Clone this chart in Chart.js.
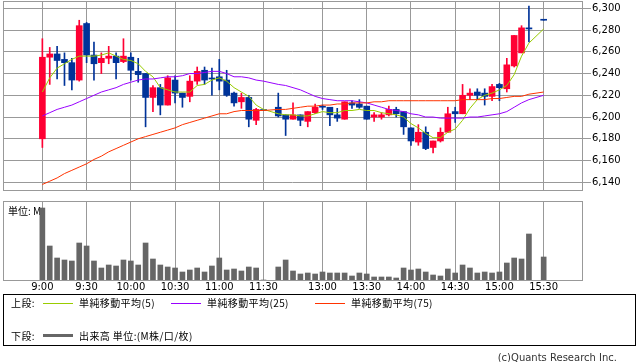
<!DOCTYPE html>
<html>
<head>
<meta charset="utf-8">
<script src="https://cdn.jsdelivr.net/npm/chart.js@4.4.0/dist/chart.umd.min.js"></script>
<style>
  body { margin:0; width:638px; height:362px; background:#fff; position:relative; overflow:hidden; font-family:"Noto Sans CJK JP", sans-serif; }
  canvas { position:absolute; left:0; }
  #price { top:0; }
  #volume { top:196px; }
  .box { position:absolute; left:3px; top:294px; width:631px; height:50px; border:1px solid #000; }
  .t { position:absolute; font-size:10px; line-height:12px; color:#000; white-space:nowrap; letter-spacing:0.4px; }
  .ln { position:absolute; height:1px; width:30px; left:43px; }
  .copy { position:absolute; right:21px; top:352px; font:10px "DejaVu Sans"; color:#333; }
</style>
</head>
<body>
<canvas id="price" width="638" height="192"></canvas>
<canvas id="volume" width="638" height="100"></canvas>

<div class="box"></div>
<div class="t" style="left:11px;top:297px">上段:</div>
<div class="ln" style="top:303px;background:#99cc00"></div>
<div class="t" style="left:79px;top:297px">単純移動平均(5)</div>
<div class="ln" style="left:171px;top:303px;background:#9900ff"></div>
<div class="t" style="left:207px;top:297px">単純移動平均(25)</div>
<div class="ln" style="left:315px;top:303px;background:#ff3300"></div>
<div class="t" style="left:351px;top:297px">単純移動平均(75)</div>
<div class="t" style="left:11px;top:330px">下段:</div>
<div class="ln" style="top:334px;height:3px;background:#666"></div>
<div class="t" style="left:79px;top:330px">出来高 単位:(M株/口/枚)</div>
<div class="copy">(c)Quants Research Inc.</div>

<script>
// 5分足 (slot 31 = 昼休み, slot 67 = 取引なし)
const times = ["9:00","9:05","9:10","9:15","9:20","9:25","9:30","9:35","9:40","9:45","9:50","9:55",
  "10:00","10:05","10:10","10:15","10:20","10:25","10:30","10:35","10:40","10:45","10:50","10:55",
  "11:00","11:05","11:10","11:15","11:20","11:25","11:30","",
  "12:30","12:35","12:40","12:45","12:50","12:55",
  "13:00","13:05","13:10","13:15","13:20","13:25","13:30","13:35","13:40","13:45","13:50","13:55",
  "14:00","14:05","14:10","14:15","14:20","14:25","14:30","14:35","14:40","14:45","14:50","14:55",
  "15:00","15:05","15:10","15:15","15:20","15:25","15:30"];
const tickLabels = ["9:00","9:30","10:00","10:30","11:00","11:30","13:00","13:30","14:00","14:30","15:00","15:30"];
const priceTicks = [6140, 6160, 6180, 6200, 6220, 6240, 6260, 6280, 6300];

const open = [6180,6255,6258,6253,6250,6234,6286,6257,6250,6254,6256,6251,
  6255,6242,6240,6218,6227,6211,6234,6222,6219,6233,6243,6235,
  6237,6234,6222,6214,6218,6197,6206,null,
  6209,6202,6198,6202,6196,6204,
  6209,6209,6202,6198,6213,6212,6210,6200,6200,6202,6207,6205,
  6190,6177,6186,6172,6178,6186,6205,6203,6220,6223,6222,6219,
  6230,6226,6247,6259,6282,null,6289];
const high = [6272,6264,6265,6259,6254,6289,6287,6269,6259,6265,6259,6272,
  6259,6254,6240,6229,6230,6238,6238,6222,6238,6246,6246,6245,
  6253,6243,6223,6222,6220,6208,6206,null,
  6222,6202,6213,6202,6205,6212,
  6211,6209,6208,6214,6215,6216,6210,6204,6204,6210,6209,6205,
  6190,6193,6191,6178,6190,6209,6209,6230,6226,6226,6226,6230,
  6231,6254,6275,6284,6302,null,6289];
const low = [6172,6230,6235,6229,6225,6233,6250,6234,6240,6249,6235,6250,
  6234,6232,6191,6205,6202,6211,6213,6209,6214,6230,6230,6220,
  6225,6219,6210,6208,6191,6193,6206,null,
  6200,6183,6198,6192,6191,6203,
  6207,6192,6196,6198,6208,6208,6198,6196,6198,6201,6200,6184,
  6174,6174,6170,6167,6177,6186,6195,6203,6216,6216,6211,6215,
  6215,6223,6246,6259,6269,null,6289];
const close = [6255,6258,6252,6250,6234,6284,6257,6249,6254,6256,6250,6256,
  6243,6239,6218,6227,6211,6236,6222,6218,6233,6242,6234,6235,
  6233,6220,6213,6218,6198,6207,6206,null,
  6201,6198,6202,6197,6205,6209,
  6209,6202,6199,6214,6211,6209,6198,6202,6202,6207,6203,6191,
  6178,6186,6171,6178,6186,6203,6203,6220,6222,6220,6219,6228,
  6227,6248,6275,6282,6281,null,6289];

const ma5 = [6223,6236,6245,6249,6253,6256,6256,6256,6257,6259,6256,6253,
  6252,6249,6242,6237,6227,6225,6223,6223,6223,6229,6230,6234,
  6236,6233,6227,6223,6219,6211,6207,null,
  6203,6202,6202,6201,6201,6203,
  6205,6204,6204,6206,6206,6207,6206,6206,6204,6203,6202,6200,
  6194,6190,6185,6181,6181,6186,6189,6197,6208,6216,6220,6222,
  6225,6229,6239,6256,6268,null,6281];
const ma25 = [6201,6204,6207,6209,6211,6214,6217,6220,6223,6225,6227,6230,
  6232,6234,6235,6235,6236,6237,6237,6238,6240,6240,6241,6242,
  6242,6240,6237,6237,6236,6234,6233,null,
  6230,6229,6227,6225,6222,6219,
  6217,6216,6215,6215,6215,6214,6213,6211,6209,6207,6206,6205,
  6203,6202,6200,6200,6199,6199,6199,6199,6200,6200,6201,6202,
  6203,6205,6209,6213,6216,null,6220];
const ma75 = [6138,6141,6144,6148,6151,6154,6157,6161,6164,6168,6171,6174,
  6177,6180,6182,6184,6186,6188,6190,6193,6195,6197,6199,6201,
  6203,6203,6205,6206,6206,6206,6206,null,
  6207,6207,6208,6209,6210,6210,
  6211,6211,6212,6212,6213,6213,6213,6214,6214,6215,6215,6215,
  6215,6215,6215,6215,6215,6215,6215,6216,6216,6216,6216,6217,
  6217,6218,6219,6219,6221,null,6223];

const volume = [7.2,3.4,2.2,2.0,1.9,3.7,3.4,1.9,1.2,1.5,1.4,2.0,
  1.9,1.5,3.7,2.1,1.5,1.3,1.2,0.8,1.0,1.2,0.8,1.4,
  2.2,1.0,1.1,0.9,1.3,1.2,0,null,
  1.3,2.0,0.9,0.6,0.7,0.6,
  0.8,0.7,0.7,0.7,0.4,0.7,0.6,0.3,0.3,0.3,0.2,1.2,
  1.0,1.1,0.8,0.5,0.4,1.1,0.7,1.5,1.2,0.7,0.8,0.7,
  0.8,1.7,2.2,2.1,4.6,null,2.3];

const UP = "#ff0033", DOWN = "#003399", GRID = "#999999";
const tickIdx = tickLabels.map(t => times.indexOf(t));
const slots = times.map((t, i) => i);
const live = slots.filter(i => open[i] !== null);
const candleColor = live.map(i => close[i] > open[i] ? UP : DOWN);
const comma = v => String(v).replace(/\B(?=(\d{3})+(?!\d))/g, ",");

// 枠線
const frame = {
  id: "frame",
  afterDatasetsDraw(chart) {
    const { ctx, chartArea: a } = chart;
    ctx.save();
    ctx.strokeStyle = GRID;
    ctx.lineWidth = 1;
    ctx.strokeRect(Math.round(a.left) + 0.5, Math.round(a.top) + 0.5,
      Math.round(a.right - a.left), Math.round(a.bottom - a.top));
    ctx.restore();
  }
};

function xAxis(showLabels, h) {
  return {
    type: "linear", min: -5.34, max: 73.2, offset: false,
    afterBuildTicks: s => { s.ticks = tickIdx.map(v => ({ value: v })); },
    ticks: {
      display: showLabels, autoSkip: false, maxRotation: 0, padding: 1, color: "#000",
      font: { family: "DejaVu Sans", size: 10 },
      callback: v => times[v]
    },
    grid: { color: GRID, drawTicks: false, offset: false },
    border: { display: false },
    afterFit: s => { s.height = h; s.paddingLeft = 0; s.paddingRight = 0; }
  };
}

const maLine = (arr, color) => ({
  type: "line",
  data: slots.map(i => ({ x: i, y: arr[i] })),
  borderColor: color, borderWidth: 1, pointRadius: 0, tension: 0, spanGaps: true, order: 0
});

new Chart(document.getElementById("price"), {
  type: "bar",
  data: {
    datasets: [
      {
        data: live.map(i => ({ x: i, y: [low[i], high[i]] })),
        backgroundColor: candleColor, barThickness: 1, grouped: false, order: 2
      },
      {
        data: live.map(i => ({ x: i, y: [open[i], close[i]] })),
        backgroundColor: candleColor, barThickness: 6, minBarLength: 1, grouped: false, order: 1
      },
      maLine(ma75, "#ff3300"),
      maLine(ma25, "#9900ff"),
      maLine(ma5, "#99cc00")
    ]
  },
  options: {
    responsive: false, animation: false,
    layout: { padding: { left: 3, right: 0, top: 1, bottom: 2 } },
    plugins: { legend: { display: false }, tooltip: { enabled: false } },
    scales: {
      x: xAxis(false, 0),
      y: {
        position: "right", min: 6132.9, max: 6306.7,
        afterBuildTicks: s => { s.ticks = priceTicks.map(v => ({ value: v })); },
        ticks: { padding: 1, color: "#000", font: { family: "DejaVu Sans", size: 10 }, callback: v => comma(v) },
        grid: { color: GRID, tickLength: 9 },
        border: { display: false },
        afterFit: s => { s.width = 56; s.paddingTop = 0; s.paddingBottom = 0; }
      }
    }
  },
  plugins: [frame]
});

const unitLabel = {
  id: "unitLabel",
  beforeDatasetsDraw(chart) {
    const ctx = chart.ctx;
    ctx.save();
    ctx.fillStyle = "#000";
    ctx.font = '10px "Noto Sans CJK JP"';
    ctx.textBaseline = "middle";
    ctx.fillText("単位: M", 8, 15);
    ctx.restore();
  }
};

new Chart(document.getElementById("volume"), {
  type: "bar",
  data: {
    datasets: [{
      data: slots.filter(i => volume[i] !== null).map(i => ({ x: i, y: volume[i] })),
      backgroundColor: "#666666", barThickness: 5
    }]
  },
  options: {
    responsive: false, animation: false,
    layout: { padding: { left: 3, right: 56, top: 5, bottom: 0 } },
    plugins: { legend: { display: false }, tooltip: { enabled: false } },
    scales: {
      x: xAxis(true, 16),
      y: { display: false, min: 0, max: 7.9 }
    }
  },
  plugins: [unitLabel, frame]
});
</script>
</body>
</html>
